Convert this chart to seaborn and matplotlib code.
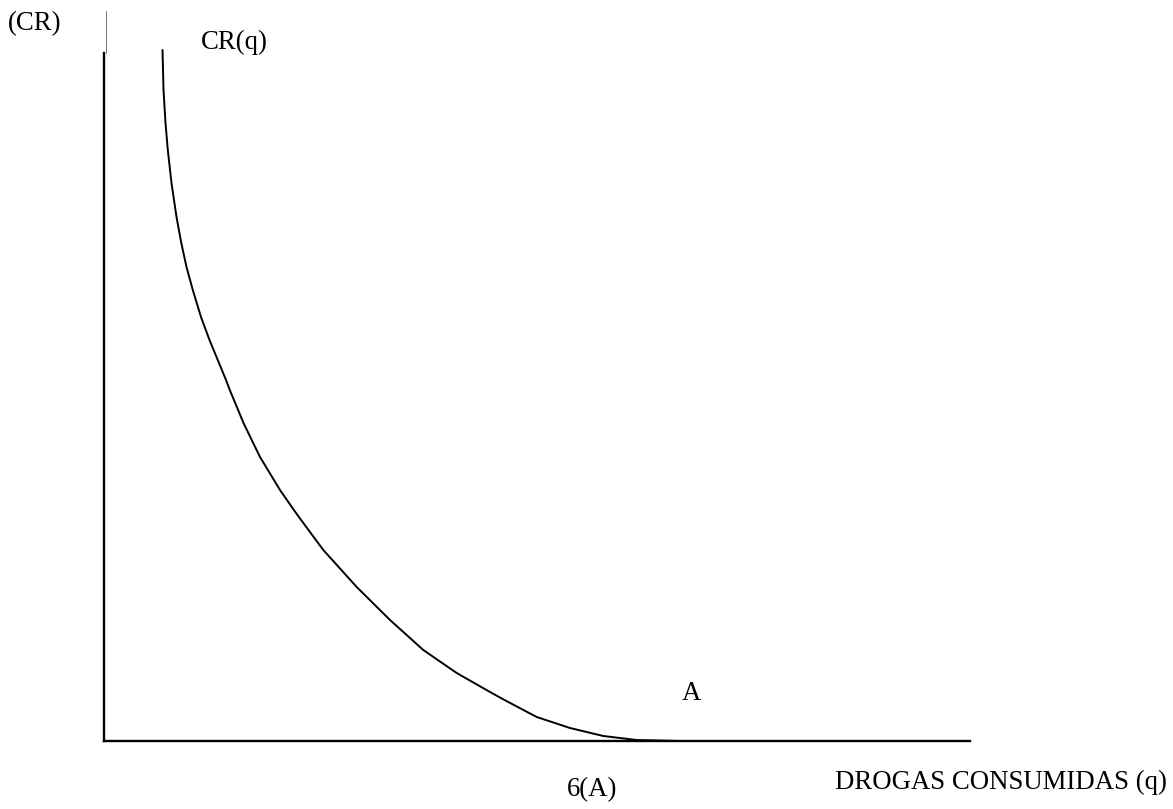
import numpy as np
import pandas as pd
import matplotlib
matplotlib.use("Agg")
import matplotlib.pyplot as plt
import seaborn as sns

# curve CR(q) (q on x, CR on y)
q_vals = [58.5, 59.5, 61.5, 63.8, 67.5, 72.5, 77.3, 82.5, 88.8, 97, 105.5, 115, 122,
          125.8, 139.5, 156, 176, 192, 203, 219.3, 252.7, 286, 319.3, 352.7, 386,
          400.5, 432.7, 466, 499.3, 532.7, 576]
cr_vals = [691, 651, 618, 591, 558, 524, 498, 474, 451, 424, 401, 378, 361,
           351, 318, 284, 251, 228, 213, 191, 154, 121, 91, 68, 49,
           41, 24, 13, 5, 1, 0]
q_max = 866
cr_max = 730

y_label = "(CR)"
x_label = "DROGAS CONSUMIDAS (q)"
curve_label = "CR(q)"
point_label = "A"
point_tick = "6(A)"

df = pd.DataFrame({"q": q_vals, "cr": cr_vals})

sns.set_style("white")
plt.rcParams['font.family'] = ['Liberation Serif', 'DejaVu Serif']

W, H = 1173, 809
fig = plt.figure(figsize=(W / 100, H / 100), dpi=100)
ax = fig.add_axes([104 / W, (H - 741) / H, 866 / W, 730 / H])

# estimator=None: draw the points as read, no aggregation / band
sns.lineplot(data=df, x="q", y="cr", ax=ax, color="black", linewidth=1.4,
             sort=False, estimator=None)
ax.set_xlim(0, q_max)
ax.set_ylim(0, cr_max)

for s in ["top", "right"]:
    ax.spines[s].set_visible(False)
ax.spines["bottom"].set_linewidth(1.7)
ax.spines["bottom"].set_color("black")
ax.spines["left"].set_linewidth(1.7)
ax.spines["left"].set_color("black")
ax.spines["left"].set_bounds(0, 688)
# thin upper part of the vertical axis
ax.plot([1.5, 1.5], [688, cr_max], color="#777777", linewidth=0.7, clip_on=False)

ax.set_xticks([])
ax.set_yticks([])
ax.set_xlabel("")
ax.set_ylabel("")

fs = 19.3
kw = dict(fontsize=fs, ha="center", va="center", color="black")
fig.text(35 / W, 1 - 24 / H, y_label, **kw)
fig.text(234 / W, 1 - 42 / H, curve_label, **kw)
fig.text(691 / W, 1 - 693 / H, point_label, **kw)
fig.text(592 / W, 1 - 790 / H, point_tick, **kw)
fig.text(1001 / W, 1 - 782 / H, x_label, **kw)

fig.savefig("out.png", dpi=100)
